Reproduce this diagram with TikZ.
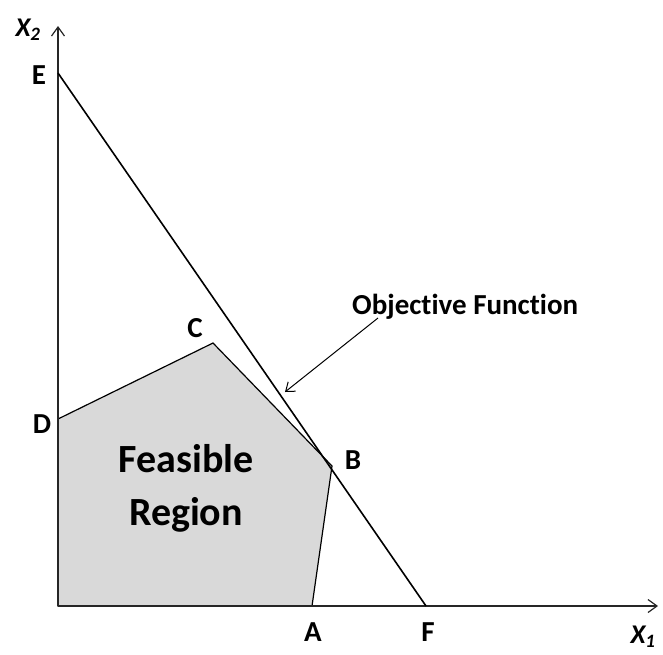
\documentclass[tikz,border=0pt]{standalone}
\usepackage{fontspec}
\setmainfont{Carlito}[Ligatures=NoCommon]
\usepackage{xcolor}
\usepackage{tikz}
\usetikzlibrary{arrows.meta, positioning}
\definecolor{regiongray}{HTML}{D9D9D9}
\tikzset{
  axis/.style={line width=1.4pt, black!85, -{Straight Barb[length=9pt, width=13pt, line width=1.2pt]}},
  objline/.style={line width=1.6pt, black},
  region/.style={draw=black, line width=1.2pt, fill=regiongray, line join=miter},
  pointer/.style={line width=1pt, -{Straight Barb[length=8pt, width=12pt, line width=1pt]}},
  vlabel/.style={font=\fontsize{29}{34}\selectfont\bfseries, inner sep=0pt},
  axlabel/.style={font=\fontsize{27}{30}\selectfont\bfseries\itshape, inner sep=0pt},
  bigtext/.style={font=\fontsize{40}{53}\selectfont\bfseries, align=center, inner sep=0pt},
}

\begin{document}
\begin{tikzpicture}[x=1pt, y=-1pt]
\useasboundingbox (0,0) rectangle (663,654);
% corner points
\coordinate (O) at (58,606);
\coordinate (A) at (312,606);
\coordinate (B) at (332,466);
\coordinate (C) at (213,343);
\coordinate (D) at (58,419);
\coordinate (E) at (58,73);
\coordinate (F) at (426,606);
\coordinate (x1end) at (658,606);
\coordinate (x2end) at (58,26);

\draw[region] (O) -- (A) -- (B) -- (C) -- (D) -- cycle;
\draw[axis] (O) -- (x1end);
\draw[axis] (O) -- (x2end);
\draw[objline] (E) -- (F);

\node[axlabel] (x2lab) at (28,30) {X\textsubscript{2}};
\node[axlabel] (x1lab) at (643,637) {X\textsubscript{1}};

\node[vlabel] (lA) at (313,632) {A};
\node[vlabel] (lB) at (353,460) {B};
\node[vlabel] (lC) at (195,328) {C};
\node[vlabel] (lD) at (42,424) {D};
\node[vlabel] (lE) at (39,75) {E};
\node[vlabel] (lF) at (428,632) {F};

\node[bigtext] (feas) at (186,488) {Feasible\\Region};

\node[font=\fontsize{29}{34}\selectfont\bfseries, inner sep=0pt, anchor=west] (obj) at (352,307) {Objective Function};
\coordinate (objfoot) at (378,318);
\coordinate (objtip) at (285,392);
\draw[pointer] (objfoot) -- (objtip);
\end{tikzpicture}
\end{document}
